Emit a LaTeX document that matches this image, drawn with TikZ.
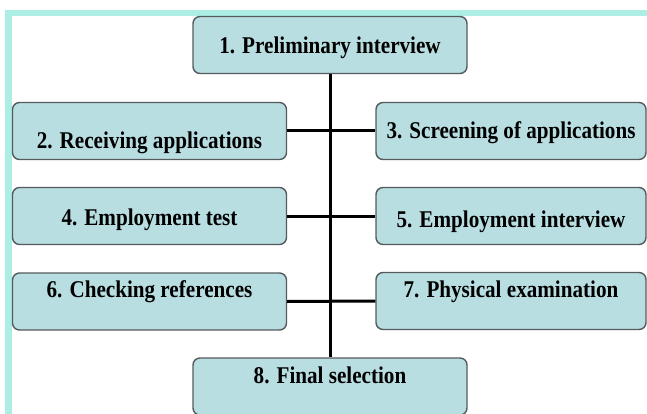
\documentclass[tikz,border=0pt]{standalone}
\usepackage{fontspec}
\setmainfont{Liberation Serif}[FakeStretch=0.88]
\definecolor{frameColor}{RGB}{172,238,228}
\definecolor{boxColor}{RGB}{184,222,226}
\definecolor{edgeColor}{RGB}{85,90,92}

\begin{document}
\begin{tikzpicture}[x=1pt, y=-1pt,
    stage/.style={draw=edgeColor, line width=1.4pt, fill=boxColor, rounded corners=7pt,
                  minimum width=274pt, minimum height=57pt, inner sep=0pt},
    stagetext/.style={font=\fontsize{24}{28}\selectfont\bfseries, text=black},
    link/.style={line width=3pt, black}]
                % Fondo y marco
                \useasboundingbox (0,0) rectangle (647,414);
                \clip (0,0) rectangle (647,414);
                \fill[frameColor] (5,10) rectangle (647,16);
                \fill[frameColor] (5,10) rectangle (12,414);

                % Cajas de las etapas
                \node[stage, label={[stagetext, yshift=-3pt]center:1. Preliminary interview}] (prelim) at (330,45) {};
                \node[stage, label={[stagetext, yshift=-12pt]center:2. Receiving applications}] (recv) at (149.5,131) {};
                \node[stage, minimum width=270pt, label={[stagetext, yshift=-2pt]center:3. Screening of applications}] (screen) at (511,131) {};
                \node[stage, label={[stagetext, yshift=-4pt]center:4. Employment test}] (test) at (149.5,216) {};
                \node[stage, minimum width=270pt, label={[stagetext, yshift=-6pt]center:5. Employment interview}] (interview) at (511,216) {};
                \node[stage, label={[stagetext, yshift=9.5pt]center:6. Checking references}] (refs) at (149.5,301.5) {};
                \node[stage, minimum width=270pt, label={[stagetext, yshift=9pt]center:7. Physical examination}] (exam) at (511,301) {};
                \node[stage, label={[stagetext, yshift=11.5pt]center:8. Final selection}] (final) at (330,386.5) {};

                % Conectores
                \draw[link] (prelim.south) -- (final.north);
                \draw[link] (recv.east) -- (screen.west);
                \draw[link] (test.east) -- (interview.west);
                \draw[link] (refs.east) -- (exam.west);
\end{tikzpicture}
\end{document}
